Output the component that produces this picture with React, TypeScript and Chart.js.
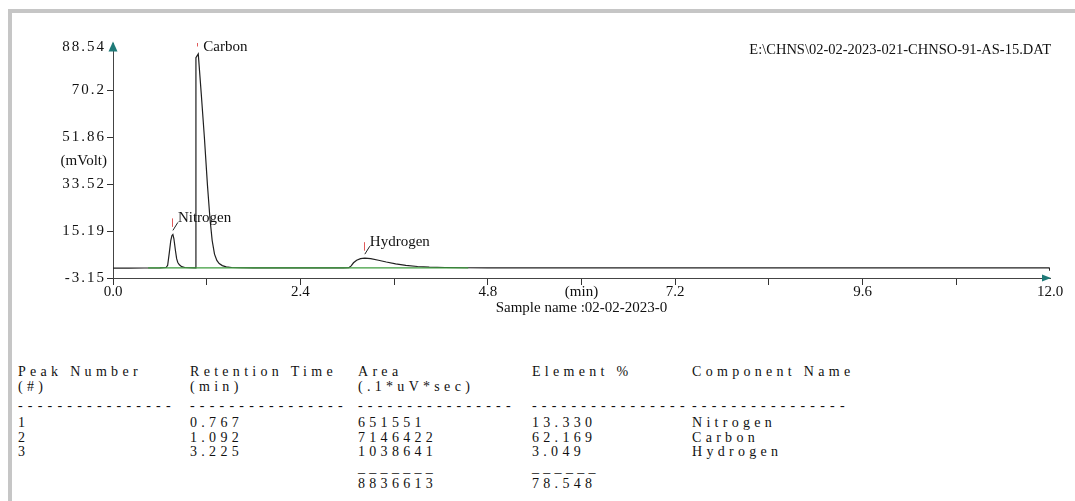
import React, { useEffect, useRef } from "react";
import { Chart, registerables } from "chart.js";

Chart.register(...registerables);

// Detector trace (retention time in minutes, signal in mV)
const signalTime = [
  0.0, 0.2, 0.4, 0.6, 0.68, 0.7, 0.72, 0.74, 0.755, 0.767, 0.78, 0.8, 0.815, 0.83, 0.85, 0.88, 0.92, 0.98,
  1.058, 1.062, 1.092, 1.13, 1.17, 1.21, 1.242, 1.27, 1.3, 1.33, 1.36, 1.4, 1.45, 1.52, 1.62, 1.8, 2.4,
  2.95, 3.02, 3.05, 3.08, 3.12, 3.17, 3.225, 3.3, 3.4, 3.5, 3.62, 3.75, 3.9, 4.05, 4.25, 4.5, 4.8,
  6.0, 8.0, 10.0, 11.99, 12.0,
];
const signalMv = [
  0.7, 0.72, 0.76, 0.8, 0.95, 1.8, 6.5, 11.5, 13.5, 13.9, 12.2, 7.5, 4.4, 2.9, 2.0, 1.3, 0.95, 0.85,
  0.82, 83.0, 84.5, 69.0, 52.0, 33.0, 20.0, 11.5, 6.2, 3.7, 2.5, 1.7, 1.2, 0.95, 0.85, 0.8, 0.8,
  0.8, 0.85, 1.6, 2.8, 3.8, 4.4, 4.6, 4.4, 3.8, 3.1, 2.4, 1.8, 1.35, 1.1, 0.95, 0.85, 0.8,
  0.8, 0.78, 0.78, 0.8, -0.4,
];

// Integration baseline
const baselineTime = [0.45, 4.55];
const baselineMv = [0.8, 0.8];

// Identified peaks
const peakNames = ["Nitrogen", "Carbon", "Hydrogen"];
const peakTime = [0.767, 1.092, 3.225];
const peakMv = [13.9, 84.5, 4.6];

// Axis ticks
const yTicks = [-3.15, 15.19, 33.52, 51.86, 70.2, 88.54];
const xTicks = [0, 1.2, 2.4, 3.6, 4.8, 6.0, 7.2, 8.4, 9.6, 10.8, 12.0];
const xTickLabels = ["0.0", "", "2.4", "", "4.8", "(min)", "7.2", "", "9.6", "", "12.0"];

// Report table
const peakNumbers = ["1", "2", "3"];
const peakAreas = ["651551", "7146422", "1038641"];
const elementPercent = ["13.330", "62.169", "3.049"];
const areaTotal = "8836613";
const percentTotal = "78.548";
const tableHeaders = ["Peak Number", "Retention Time", "Area", "Element %", "Component Name"];
const tableUnits = ["(#)", "(min)", "(.1*uV*sec)", "", ""];

const fileName = "E:\\CHNS\\02-02-2023-021-CHNSO-91-AS-15.DAT";
const sampleName = "Sample name :02-02-2023-0";
const yUnit = "(mVolt)";

const SERIF = "'Liberation Serif', 'Times New Roman', serif";
const TEAL = "#1f7a78";

const annotations = {
  id: "chromAnnotations",
  afterDraw(chart: any) {
    const { ctx, chartArea, scales } = chart;
    const { left, right, top, bottom } = chartArea;
    const xs = scales.x;
    const ys = scales.y;
    ctx.save();

    // axis arrow heads
    ctx.fillStyle = TEAL;
    ctx.beginPath();
    ctx.moveTo(left, top - 2);
    ctx.lineTo(left - 4.5, top + 8);
    ctx.lineTo(left + 4.5, top + 8);
    ctx.closePath();
    ctx.fill();
    ctx.beginPath();
    ctx.moveTo(right + 1, bottom);
    ctx.lineTo(right - 8, bottom - 3.5);
    ctx.lineTo(right - 8, bottom + 3.5);
    ctx.closePath();
    ctx.fill();

    ctx.fillStyle = "#111";
    ctx.textBaseline = "middle";
    ctx.textAlign = "right";

    // y tick labels (spaced digits)
    ctx.font = `15px ${SERIF}`;
    (ctx as any).letterSpacing = "2px";
    yTicks.forEach((v, i) => {
      const last = i === yTicks.length - 1;
      const py = last ? top + 3.5 : ys.getPixelForValue(v);
      ctx.fillText(String(v), left - 7, py);
    });
    (ctx as any).letterSpacing = "0px";

    // y unit
    ctx.fillText(yUnit, left - 6, ys.getPixelForValue(42.69));

    // data file path
    ctx.font = `14.5px ${SERIF}`;
    ctx.fillText(fileName, right + 1, top + 6.5);

    // peak labels
    ctx.font = `15px ${SERIF}`;
    ctx.textAlign = "left";
    peakNames.forEach((name, i) => {
      const px = xs.getPixelForValue(peakTime[i]);
      const py = ys.getPixelForValue(peakMv[i]);
      const clamped = py - 16 < top + 3.5;
      const ty = clamped ? top + 3.5 : py - 16;
      ctx.fillStyle = "#111";
      ctx.fillText(name, px + 5, ty);
      ctx.strokeStyle = "#e05a5a";
      ctx.lineWidth = 1;
      const tickTop = clamped ? top - 0.5 : py - 16;
      const tickBottom = clamped ? top + 3 : py - 7.5;
      ctx.beginPath();
      ctx.moveTo(Math.round(px - 1) + 0.5, tickTop);
      ctx.lineTo(Math.round(px - 1) + 0.5, tickBottom);
      ctx.stroke();
      if (!clamped) {
        ctx.strokeStyle = "#222";
        ctx.beginPath();
        ctx.moveTo(px, py - 4);
        ctx.lineTo(px + 5, py - 12);
        ctx.stroke();
      }
    });
    ctx.restore();
  },
};

function TableLine({ x, y, text, spacing = 4.3 }: { x: number; y: number; text: string; spacing?: number }) {
  return (
    <div
      style={{
        position: "absolute",
        left: x,
        top: y,
        font: `14px ${SERIF}`,
        lineHeight: "15px",
        letterSpacing: `${spacing}px`,
        whiteSpace: "pre",
        color: "#111",
      }}
    >
      {text}
    </div>
  );
}

const colX = [18, 190, 358, 532, 692];

export default function App() {
  const canvasRef = useRef<HTMLCanvasElement>(null);

  useEffect(() => {
    const canvas = canvasRef.current;
    if (!canvas) return;
    const chart = new Chart(canvas, {
      type: "line",
      data: {
        datasets: [
          {
            data: baselineTime.map((t, i) => ({ x: t, y: baselineMv[i] })),
            borderColor: "#3c9c3c",
            borderWidth: 1.2,
            pointRadius: 0,
            order: 1,
          },
          {
            data: signalTime.map((t, i) => ({ x: t, y: signalMv[i] })),
            borderColor: "#202020",
            borderWidth: 1.2,
            pointRadius: 0,
            tension: 0,
            order: 2,
          },
        ],
      },
      options: {
        animation: false,
        responsive: false,
        events: [],
        layout: { padding: { top: 43.5, right: 25, left: 0, bottom: 0 } },
        plugins: { legend: { display: false }, tooltip: { enabled: false } },
        scales: {
          x: {
            type: "linear",
            min: 0,
            max: 12,
            afterBuildTicks: (s: any) => {
              s.ticks = xTicks.map((v) => ({ value: v }));
            },
            afterFit: (s: any) => {
              s.height = 52;
            },
            ticks: {
              autoSkip: false,
              maxRotation: 0,
              padding: -2,
              color: "#111",
              font: { family: SERIF, size: 15 },
              callback: (_v: any, i: number) => xTickLabels[i],
            },
            grid: {
              drawOnChartArea: false,
              tickLength: 7,
              color: (c: any) => (c.index === xTicks.length - 1 ? "rgba(0,0,0,0)" : "#333"),
            },
            border: { color: "#444", width: 1 },
            title: {
              display: true,
              text: sampleName,
              color: "#111",
              font: { family: SERIF, size: 15 },
              padding: { top: 0, bottom: 13 },
            },
          },
          y: {
            type: "linear",
            min: -3.15,
            max: 88.54,
            afterBuildTicks: (s: any) => {
              s.ticks = yTicks.map((v) => ({ value: v }));
            },
            afterFit: (s: any) => {
              s.width = 113;
            },
            ticks: {
              autoSkip: false,
              padding: 2,
              font: { family: SERIF, size: 15 },
              callback: () => "",
            },
            grid: {
              drawOnChartArea: false,
              tickLength: 6,
              color: (c: any) => (c.index === yTicks.length - 1 ? "rgba(0,0,0,0)" : "#333"),
            },
            border: { color: "#444", width: 1 },
          },
        },
      },
      plugins: [annotations],
    } as any);
    return () => chart.destroy();
  }, []);

  const dashes = "----------------";
  return (
    <div style={{ position: "fixed", left: 0, top: 0, width: "100vw", height: "100vh", background: "#fff", overflow: "hidden" }}>
      <div
        style={{
          position: "absolute",
          left: 8,
          top: 9,
          right: 0,
          bottom: 0,
          borderTop: "4px solid #c6c6c6",
          borderLeft: "4px solid #c6c6c6",
        }}
      />
      <canvas
        ref={canvasRef}
        width={1075}
        height={330}
        style={{ position: "absolute", left: 0, top: 0, width: 1075, height: 330 }}
      />
      {tableHeaders.map((h, i) => (
        <TableLine key={"h" + i} x={colX[i]} y={364} text={h} />
      ))}
      {tableUnits.map((u, i) => (
        <TableLine key={"u" + i} x={colX[i]} y={379} text={u} />
      ))}
      {colX.map((x, i) => (
        <TableLine key={"d" + i} x={x} y={398} text={dashes} spacing={5.2} />
      ))}
      {peakNumbers.map((n, r) => {
        const y = 415 + r * 14.5;
        return (
          <React.Fragment key={"r" + r}>
            <TableLine x={colX[0]} y={y} text={n} />
            <TableLine x={colX[1]} y={y} text={peakTime[r].toFixed(3)} />
            <TableLine x={colX[2]} y={y} text={peakAreas[r]} />
            <TableLine x={colX[3]} y={y} text={elementPercent[r]} />
            <TableLine x={colX[4]} y={y} text={peakNames[r]} />
          </React.Fragment>
        );
      })}
      <TableLine x={colX[2]} y={460} text={"_".repeat(areaTotal.length)} />
      <TableLine x={colX[3]} y={460} text={"_".repeat(percentTotal.length)} />
      <TableLine x={colX[2]} y={476} text={areaTotal} />
      <TableLine x={colX[3]} y={476} text={percentTotal} />
    </div>
  );
}
